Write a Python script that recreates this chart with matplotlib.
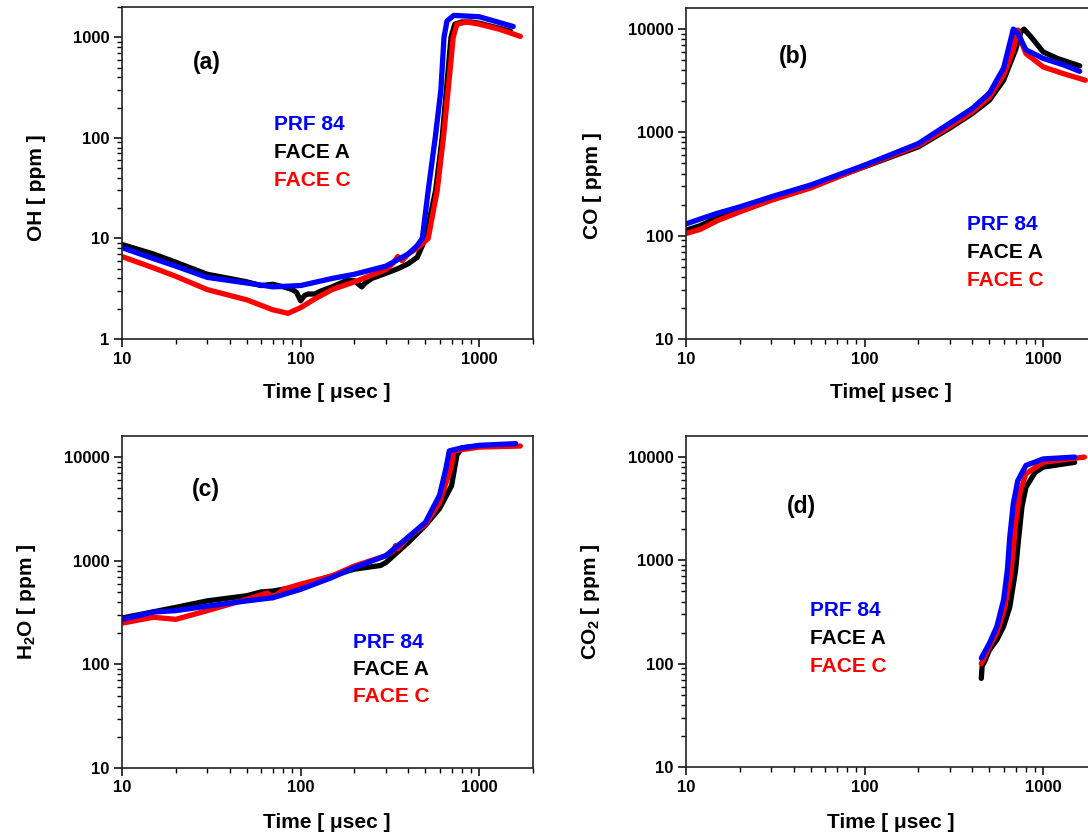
import matplotlib
matplotlib.use("Agg")
import matplotlib.pyplot as plt
from matplotlib.ticker import LogLocator, FuncFormatter, NullFormatter

plt.rcParams['font.family'] = ['Liberation Sans', 'DejaVu Sans']
plt.rcParams['font.weight'] = 'bold'
plt.rcParams['mathtext.fontset'] = 'custom'
plt.rcParams['mathtext.rm'] = 'Liberation Sans:bold'
plt.rcParams['mathtext.it'] = 'Liberation Sans:bold'
plt.rcParams['mathtext.bf'] = 'Liberation Sans:bold'
plt.rcParams['mathtext.default'] = 'rm'

series_names = ["PRF 84", "FACE A", "FACE C"]
series_colors = ["#0000ff", "#000000", "#ff0000"]

# (a) OH
a_t_blue = [10, 15, 20, 30, 50, 70, 100, 150, 200, 300, 400, 450, 480, 518, 567, 610, 635, 660, 720, 1000, 1550]
a_blue = [8.1, 6.3, 5.3, 4.1, 3.6, 3.3, 3.4, 4.0, 4.4, 5.3, 7.0, 8.5, 10, 30, 100, 300, 1000, 1450, 1650, 1600, 1280]
a_t_black = [10, 15, 20, 30, 40, 50, 60, 70, 80, 90, 95, 100, 105, 110, 120, 130, 150, 180, 200, 220, 230,
             250, 300, 350, 400, 450, 500, 570, 620, 655, 695, 730, 800, 900, 1000, 1500]
a_black = [8.7, 7.0, 5.8, 4.4, 4.0, 3.7, 3.4, 3.5, 3.3, 3.1, 2.9, 2.4, 2.7, 2.8, 2.8, 3.0, 3.3, 3.8, 3.8, 3.3, 3.6,
           4.0, 4.5, 5.0, 5.6, 6.5, 10, 30, 100, 300, 1000, 1350, 1420, 1420, 1380, 1150]
a_t_red = [10, 15, 20, 30, 50, 70, 85, 100, 120, 150, 200, 300, 330, 350, 370, 400, 450, 518, 582, 630, 670,
           715, 750, 850, 1000, 1300, 1700]
a_red = [6.6, 5.1, 4.2, 3.1, 2.45, 1.95, 1.8, 2.05, 2.5, 3.1, 3.7, 4.9, 5.7, 6.6, 6.0, 7.0, 8.0, 10, 30, 100, 300,
         1000, 1350, 1420, 1350, 1200, 1020]

# (b) CO
b_t_blue = [10, 12, 15, 20, 30, 50, 100, 200, 300, 400, 500, 600, 650, 680, 720, 800, 1000, 1300, 1600]
b_blue = [130, 145, 165, 190, 238, 310, 482, 780, 1230, 1700, 2400, 4200, 7300, 10000, 9100, 6300, 5200, 4500, 3900]
b_t_black = [10, 12, 15, 20, 30, 50, 100, 200, 300, 400, 500, 600, 700, 750, 780, 850, 1000, 1200, 1600]
b_black = [113, 125, 150, 177, 230, 300, 465, 725, 1100, 1520, 2050, 3200, 6300, 9400, 10000, 8500, 6000, 5200, 4400]
b_t_red = [10, 12, 15, 20, 30, 50, 100, 200, 300, 400, 500, 600, 680, 720, 760, 800, 1000, 1300, 1720]
b_red = [105, 115, 140, 170, 220, 290, 470, 750, 1140, 1580, 2200, 3600, 6300, 9800, 7300, 5800, 4300, 3700, 3200]

# (c) H2O
c_t_blue = [10, 15, 20, 30, 50, 70, 100, 150, 200, 300, 400, 500, 600, 650, 680, 800, 1000, 1600]
c_blue = [272, 320, 330, 365, 410, 440, 530, 690, 860, 1120, 1690, 2350, 4300, 7700, 11500, 12300, 13000, 13500]
c_t_black = [10, 20, 30, 50, 60, 70, 100, 150, 200, 280, 300, 400, 500, 600, 700, 750, 800, 1000, 1500]
c_black = [280, 355, 410, 460, 500, 510, 570, 715, 830, 900, 960, 1500, 2200, 3200, 5300, 10500, 12300, 12800, 13200]
c_t_red = [10, 15, 20, 30, 50, 65, 70, 80, 100, 150, 200, 300, 330, 340, 350, 400, 500, 600, 700, 720, 1000, 1700]
c_red = [250, 285, 272, 330, 425, 490, 440, 530, 595, 715, 890, 1120, 1250, 1400, 1300, 1690, 2250, 3650, 8300,
         11500, 12500, 12800]

# (d) CO2
d_t_blue = [450, 500, 550, 600, 630, 650, 680, 720, 800, 1000, 1500]
d_blue = [113, 158, 229, 415, 810, 1700, 3550, 5900, 8300, 9600, 10000]
d_t_black = [450, 455, 470, 500, 550, 600, 650, 700, 730, 760, 800, 900, 1000, 1500]
d_black = [72, 95, 105, 136, 170, 230, 355, 800, 1700, 3300, 5100, 7100, 8000, 8900]
d_t_red = [450, 500, 550, 600, 650, 680, 700, 740, 800, 1000, 1700]
d_red = [100, 147, 200, 320, 650, 1260, 2300, 4500, 6900, 8900, 10000]

W, H = 1088, 835
fig = plt.figure(figsize=(W / 100, H / 100), dpi=100)


def px_axes(left, top, right, bottom):
    return fig.add_axes([left / W, 1 - bottom / H, (right - left) / W, (bottom - top) / H])


def style(ax, ylim):
    ax.set_xscale('log')
    ax.set_yscale('log')
    ax.set_xlim(10, 2000)
    ax.set_ylim(*ylim)
    for axis in (ax.xaxis, ax.yaxis):
        axis.set_major_locator(LogLocator(base=10))
        axis.set_minor_locator(LogLocator(base=10, subs=range(2, 10)))
        axis.set_major_formatter(FuncFormatter(lambda v, _: f'{v:g}'))
        axis.set_minor_formatter(NullFormatter())
    ax.tick_params(which='major', direction='out', length=6, width=1.1, labelsize=12, pad=3)
    ax.tick_params(which='minor', direction='out', length=3.5, width=1)
    for sp in ax.spines.values():
        sp.set_linewidth(1.2)
        sp.set_color('#222222')


def draw(ax, data, lw=3.8):
    # black first, then red, blue on top
    (tb, vb), (tk, vk), (tr, vr) = data
    ax.plot(tk, vk, color=series_colors[1], lw=lw, solid_capstyle='round')
    ax.plot(tr, vr, color=series_colors[2], lw=lw, solid_capstyle='round')
    ax.plot(tb, vb, color=series_colors[0], lw=lw, solid_capstyle='round')


def legend_text(x, y0, dy=27.5):
    for i, (name, c) in enumerate(zip(series_names, series_colors)):
        fig.text(x / W, 1 - (y0 + i * dy) / H, name, color=c, fontsize=15,
                 fontweight='bold', ha='left', va='center')


ax_a = px_axes(122, 7, 533, 339)
style(ax_a, (1, 2000))
draw(ax_a, [(a_t_blue, a_blue), (a_t_black, a_black), (a_t_red, a_red)])

ax_b = px_axes(686, 8, 1097, 339)
style(ax_b, (10, 16000))
draw(ax_b, [(b_t_blue, b_blue), (b_t_black, b_black), (b_t_red, b_red)])

ax_c = px_axes(122, 436, 533, 768)
style(ax_c, (10, 16000))
draw(ax_c, [(c_t_blue, c_blue), (c_t_black, c_black), (c_t_red, c_red)])

ax_d = px_axes(686, 436, 1097, 767)
style(ax_d, (10, 16000))
draw(ax_d, [(d_t_blue, d_blue), (d_t_black, d_black), (d_t_red, d_red)])

# panel letters
for x, y, s in [(207, 62, '(a)'), (793, 57, '(b)'), (206, 490, '(c)'), (801, 507, '(d)')]:
    fig.text(x / W, 1 - y / H, s, fontsize=16.5, fontweight='bold', ha='center', va='center')

legend_text(274, 125)
legend_text(967, 225)
legend_text(353, 642)
legend_text(810, 611)

# axis labels
for x, y, s in [(37, 188, 'OH [ ppm ]'), (593, 186, 'CO [ ppm ]'),
                (27, 602, r'H$_2$O [ ppm ]'), (591, 602, r'CO$_2$ [ ppm ]')]:
    fig.text(x / W, 1 - y / H, s, fontsize=15, fontweight='bold', rotation=90, ha='center', va='center')
for x, y, s in [(327, 393, 'Time [ μsec ]'), (891, 393, 'Time[ μsec ]'),
                (327, 822, 'Time [ μsec ]'), (891, 822, 'Time [ μsec ]')]:
    fig.text(x / W, 1 - y / H, s, fontsize=15, fontweight='bold', ha='center', va='center')

fig.savefig('out.png', dpi=100)
